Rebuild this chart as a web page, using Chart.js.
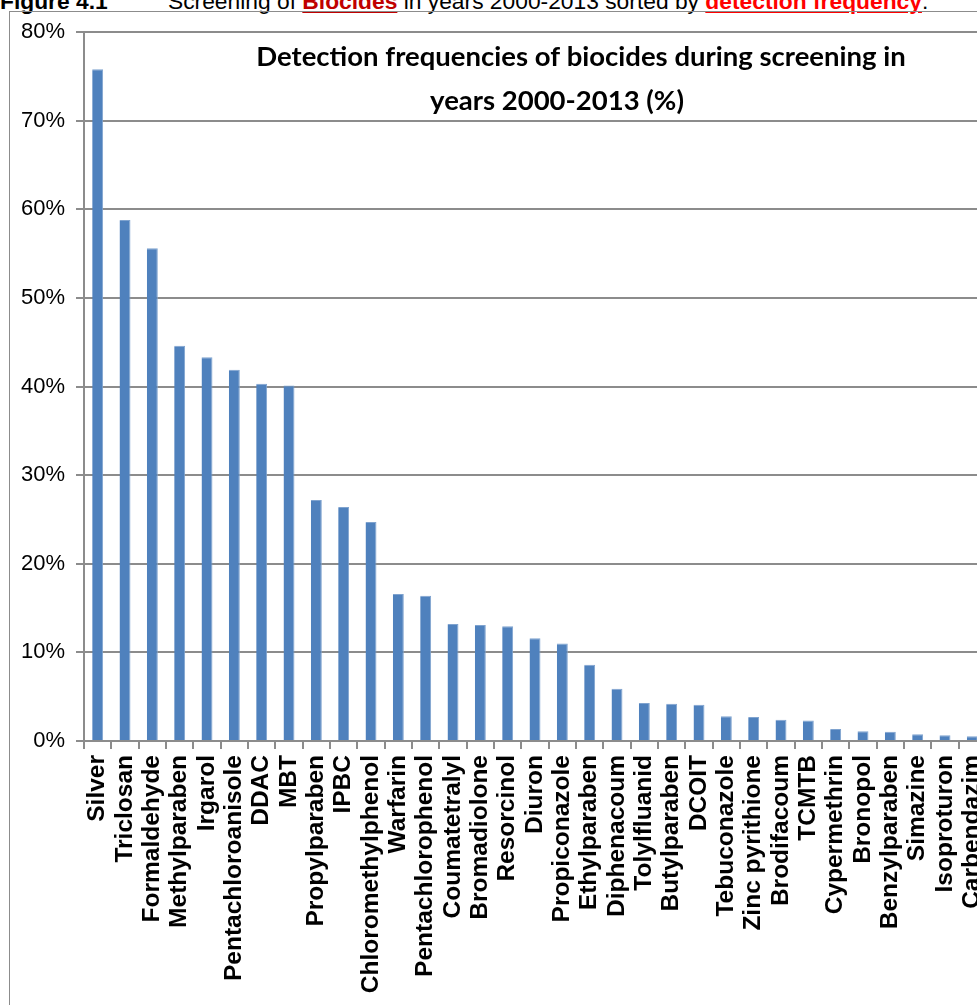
<!DOCTYPE html>
<html>
<head>
<meta charset="utf-8">
<script src="https://cdn.jsdelivr.net/npm/chart.js@4"></script>
<style>
    html, body { margin: 0; padding: 0; background: #fff; overflow: hidden; }
    body { width: 977px; height: 1005px; position: relative; }
    #caption {
        position: absolute; left: 0; top: -11px; white-space: pre;
        font: 22.8px "Liberation Sans", Arial, sans-serif; color: #000; line-height: 24px;
    }
    #caption .fig { display: inline-block; width: 168px; font-weight: bold; }
    #caption .dark { color: #c00000; font-weight: bold; text-decoration: underline; }
    #caption .red { color: #ff0000; font-weight: bold; text-decoration: underline; }
    #frame {
        position: absolute; left: 9px; top: 11px; width: 1100px; height: 1100px;
        border: 1.5px solid #8c8c8c; box-sizing: border-box;
    }
    #wrap { position: absolute; left: 0; top: 0; width: 1020px; height: 1005px; }
</style>
</head>
<body>
<div id="caption"><span class="fig">Figure 4.1</span>Screening of <span class="dark">Biocides</span> in years 2000-2013 sorted by <span class="red">detection frequency</span>.</div>
<div id="frame"></div>
<div id="wrap"><canvas id="myBarChart"></canvas></div>
<script>
// Detection frequency (%) per biocide
const biocides = [
    'Silver', 'Triclosan', 'Formaldehyde', 'Methylparaben', 'Irgarol',
    'Pentachloroanisole', 'DDAC', 'MBT', 'Propylparaben', 'IPBC',
    'Chloromethylphenol', 'Warfarin', 'Pentachlorophenol', 'Coumatetralyl',
    'Bromadiolone', 'Resorcinol', 'Diuron', 'Propiconazole', 'Ethylparaben',
    'Diphenacoum', 'Tolylfluanid', 'Butylparaben', 'DCOIT', 'Tebuconazole',
    'Zinc pyrithione', 'Brodifacoum', 'TCMTB', 'Cypermethrin', 'Bronopol',
    'Benzylparaben', 'Simazine', 'Isoproturon', 'Carbendazim'
];
const detectionFrequency = [
    75.8, 58.8, 55.6, 44.6, 43.3,
    41.9, 40.3, 40.1, 27.2, 26.4,
    24.7, 16.6, 16.4, 13.2,
    13.1, 12.95, 11.6, 11.0, 8.6,
    5.9, 4.3, 4.2, 4.1, 2.8,
    2.7, 2.4, 2.3, 1.35, 1.1,
    1.05, 0.75, 0.65, 0.55
];
const titleLines = [
    'Detection frequencies of biocides during screening in',
    'years 2000-2013 (%)'
];

const axisGrey = '#8c8c8c';
const labelFont = '"Liberation Sans", Arial, sans-serif';

// title sits inside the plot area like in Excel
const insideTitle = {
    id: 'insideTitle',
    afterDraw(chart) {
        const ctx = chart.ctx;
        ctx.save();
        ctx.fillStyle = '#000';
        ctx.font = 'bold 27.5px Lato, "Open Sans", sans-serif';
        ctx.textAlign = 'center';
        ctx.textBaseline = 'middle';
        ctx.fillText(titleLines[0], 581, 57);
        ctx.fillText(titleLines[1], 557, 101);
        ctx.restore();
    }
};

const barChartData = {
    labels: biocides,
    datasets: [{
        label: 'Detection frequency',
        data: detectionFrequency,
        backgroundColor: '#4f81bd',
        borderColor: '#7fa3cf',
        borderWidth: { top: 1, right: 1, left: 0, bottom: 0 },
        categoryPercentage: 1,
        barPercentage: 0.4
    }]
};

const barChartConfig = {
    type: 'bar',
    data: barChartData,
    options: {
        responsive: true,
        maintainAspectRatio: false,
        animation: false,
        layout: {
            padding: { top: 32, right: 34, bottom: 0, left: 0 }
        },
        scales: {
            x: {
                offset: true,
                border: { color: axisGrey, width: 2 },
                grid: {
                    offset: true,
                    drawOnChartArea: false,
                    drawTicks: true,
                    tickLength: 8,
                    color: axisGrey,
                    lineWidth: 2
                },
                ticks: {
                    autoSkip: false,
                    minRotation: 90,
                    maxRotation: 90,
                    padding: 6,
                    color: '#000',
                    font: { family: labelFont, size: 24.5, weight: 'bold' }
                },
                afterFit: (scale) => { scale.height = 1005 - 741; }
            },
            y: {
                min: 0,
                max: 80,
                border: { color: axisGrey, width: 2 },
                grid: {
                    color: axisGrey,
                    lineWidth: 2,
                    tickLength: 8
                },
                ticks: {
                    stepSize: 10,
                    padding: 11,
                    color: '#000',
                    font: { family: labelFont, size: 22 },
                    callback: (v) => v + '%'
                },
                afterFit: (scale) => { scale.width = 84; }
            }
        },
        plugins: {
            legend: { display: false },
            title: { display: false },
            tooltip: { enabled: false }
        }
    },
    plugins: [insideTitle]
};

new Chart(
    document.getElementById('myBarChart'),
    barChartConfig
);
</script>
</body>
</html>
